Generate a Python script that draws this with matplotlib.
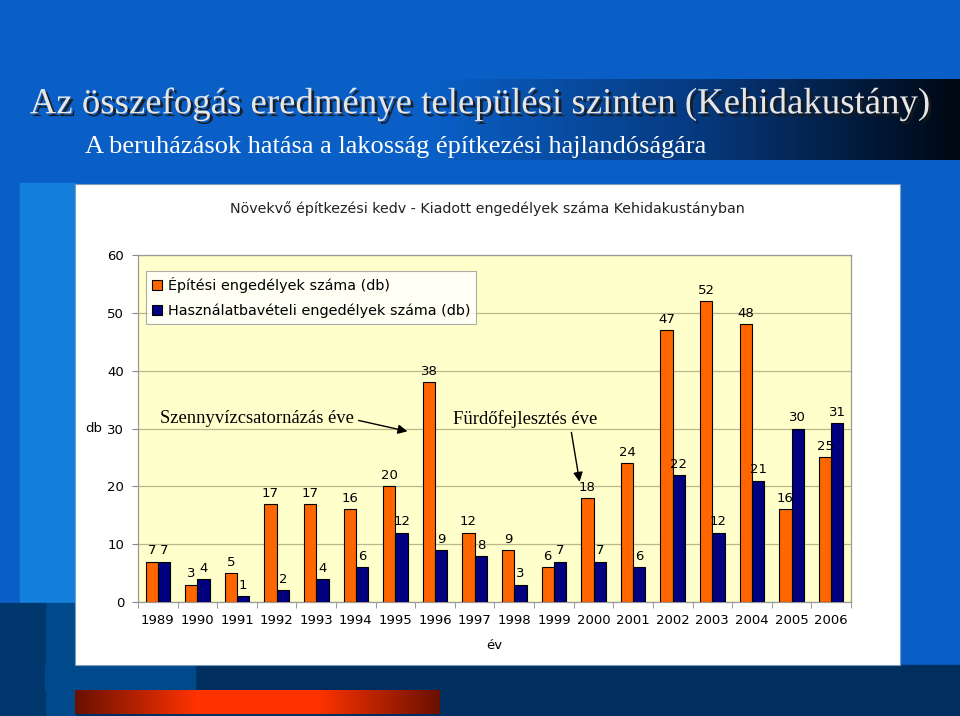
import matplotlib
matplotlib.use("Agg")
import matplotlib.pyplot as plt
import matplotlib.patheffects as pe
from matplotlib.patches import Rectangle
import numpy as np

years = [str(y) for y in range(1989, 2007)]
epitesi = [7, 3, 5, 17, 17, 16, 20, 38, 12, 9, 6, 18, 24, 47, 52, 48, 16, 25]
hasznalat = [7, 4, 1, 2, 4, 6, 12, 9, 8, 3, 7, 7, 6, 22, 12, 21, 30, 31]
series_names = ["Építési engedélyek száma (db)",
                "Használatbavételi engedélyek száma (db)"]

ORANGE = "#FF6600"
NAVY = "#000080"
PLOT_BG = "#FFFFCC"
SLIDE_BLUE = "#0A5FC6"

fig = plt.figure(figsize=(9.6, 7.16), dpi=100)
fig.patch.set_facecolor(SLIDE_BLUE)

# slide decoration in pixel coordinates
bg = fig.add_axes([0, 0, 1, 1], zorder=0)
bg.set_xlim(0, 960)
bg.set_ylim(716, 0)
bg.axis("off")
# title band: blue on the left fading to near black on the right
grad = np.linspace(0, 1, 256)
grad = np.clip((grad - 0.45) / 0.55, 0, 1)[None, :]
band_cmap = matplotlib.colors.LinearSegmentedColormap.from_list(
    "band", [SLIDE_BLUE, "#063a80", "#000814"])
bg.imshow(grad, extent=(0, 960, 160, 79), cmap=band_cmap, aspect="auto", zorder=1)
bg.add_patch(Rectangle((20, 183), 55, 420, color="#1580DC", zorder=1))
bg.add_patch(Rectangle((0, 665), 960, 51, color="#002E5E", zorder=1))
bg.add_patch(Rectangle((45, 603), 30, 113, color="#004A8C", zorder=1))
bg.add_patch(Rectangle((0, 603), 45, 113, color="#00376C", zorder=1))
bg.add_patch(Rectangle((45, 665), 150, 25, color="#004A8C", zorder=1))
red = matplotlib.colors.LinearSegmentedColormap.from_list(
    "red", ["#6A1000", "#FF3300", "#FF3300", "#6A1000"])
bg.imshow(np.linspace(0, 1, 256)[None, :], extent=(75, 440, 714, 690),
          cmap=red, aspect="auto", zorder=2)
# white chart area
bg.add_patch(Rectangle((75, 184), 825, 481, facecolor="white",
                       edgecolor="#7F9DB9", linewidth=0.8, zorder=3))

shadow = [pe.withSimplePatchShadow(offset=(2, -2), shadow_rgbFace="#1a1a1a", alpha=0.9)]
fig.text(0.031, 0.855, "Az összefogás eredménye települési szinten (Kehidakustány)",
         family="Liberation Serif", fontsize=26.5, color="#E6E6E6",
         va="center", ha="left", path_effects=shadow, zorder=5)
fig.text(0.089, 0.794, "A beruházások hatása a lakosság építkezési hajlandóságára",
         family="Liberation Serif", fontsize=19, color="white",
         va="center", ha="left", zorder=5)
fig.text(0.508, 0.709, "Növekvő építkezési kedv - Kiadott engedélyek száma Kehidakustányban",
         fontsize=10.3, color="#222222", ha="center", va="center", zorder=5)

ax = fig.add_axes([138 / 960, 1 - 602 / 716, 713 / 960, 347 / 716], zorder=4)
ax.set_facecolor(PLOT_BG)
x = np.arange(len(years))
w = 0.31
b1 = ax.bar(x - w / 2, epitesi, w, color=ORANGE, edgecolor="black",
            linewidth=0.8, label=series_names[0], zorder=3)
b2 = ax.bar(x + w / 2, hasznalat, w, color=NAVY, edgecolor="black",
            linewidth=0.8, label=series_names[1], zorder=3)
ax.bar_label(b1, padding=3, fontsize=9.5, color="black")
ax.bar_label(b2, padding=3, fontsize=9.5, color="black")

ax.set_xlim(-0.5, len(years) - 0.5)
ax.set_ylim(0, 60)
ax.set_yticks(range(0, 61, 10))
ax.yaxis.grid(True, color="#B8B88A", linewidth=0.9, zorder=0)
ax.set_xticks(x)
ax.set_xticklabels(years, fontsize=9.5)
ax.set_xticks(np.arange(-0.5, len(years), 1), minor=True)
ax.tick_params(axis="x", which="major", length=0, pad=9)
ax.tick_params(axis="x", which="minor", length=4, color="#888888")
ax.tick_params(axis="y", length=4, color="#888888", labelsize=9.5, pad=6)
for s in ax.spines.values():
    s.set_color("#999999")
    s.set_linewidth(0.9)

ax.text(-0.05, 30, "db", transform=ax.get_yaxis_transform(), ha="right",
        va="center", fontsize=9.5)
ax.set_xlabel("év", fontsize=9.5, labelpad=8)

leg = ax.legend(loc="upper left", bbox_to_anchor=(0.005, 0.965), fontsize=10.4,
                frameon=True, fancybox=False, edgecolor="#999999",
                handlelength=0.7, handleheight=0.7, handletextpad=0.4,
                borderpad=0.4, labelspacing=0.7, borderaxespad=0.3)
leg.get_frame().set_linewidth(0.8)

ax.text(0.06, 31.7, "Szennyvízcsatornázás éve", family="Liberation Serif",
        fontsize=13.4, ha="left", va="center", zorder=5)
ax.annotate("", xy=(6.37, 29.4), xytext=(5.0, 31.5),
            arrowprops=dict(arrowstyle="-|>", color="black", lw=1.0,
                            mutation_scale=14), zorder=5)
ax.text(7.45, 31.7, "Fürdőfejlesztés éve", family="Liberation Serif",
        fontsize=13.4, ha="left", va="center", zorder=5)
ax.annotate("", xy=(10.66, 20.3), xytext=(10.43, 29.8),
            arrowprops=dict(arrowstyle="-|>", color="black", lw=1.0,
                            mutation_scale=14), zorder=5)

fig.savefig("out.png", dpi=100, facecolor=fig.get_facecolor())
